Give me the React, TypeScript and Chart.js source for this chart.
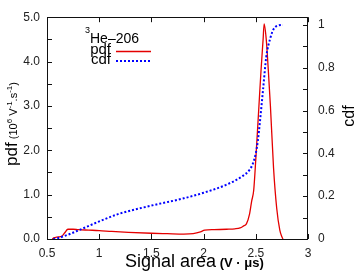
import React, { useEffect, useRef } from "react";
import { Chart, registerables } from "chart.js";

Chart.register(...registerables);

const pdfX = [0.55, 0.57, 0.59, 0.62, 0.64, 0.67, 0.7, 0.75, 0.8, 0.9, 1.0, 1.12, 1.28, 1.5, 1.65, 1.81, 1.9, 1.97, 2.01, 2.1, 2.22, 2.3, 2.35, 2.38, 2.41, 2.44, 2.46, 2.48, 2.5, 2.53, 2.55, 2.57, 2.58, 2.6, 2.62, 2.64, 2.67, 2.7, 2.73, 2.75, 2.76];
const pdfY = [0, 0.03, 0.04, 0.05, 0.06, 0.14, 0.22, 0.22, 0.21, 0.2, 0.19, 0.17, 0.15, 0.13, 0.12, 0.11, 0.12, 0.16, 0.2, 0.21, 0.22, 0.23, 0.25, 0.29, 0.34, 0.56, 0.85, 1.1, 1.8, 3.0, 3.8, 4.5, 4.85, 4.5, 3.8, 3.0, 1.6, 0.7, 0.2, 0.05, 0];

const cdfX = [0.56, 0.61, 0.7, 0.8, 0.99, 1.18, 1.5, 1.81, 2.0, 2.22, 2.38, 2.44, 2.47, 2.5, 2.52, 2.54, 2.57, 2.6, 2.64, 2.67, 2.72, 2.76];
const cdfY = [0, 0.005, 0.02, 0.04, 0.08, 0.116, 0.156, 0.19, 0.216, 0.254, 0.296, 0.323, 0.35, 0.4, 0.46, 0.55, 0.7, 0.85, 0.94, 0.98, 0.998, 1.0];

const xTicks = [0.5, 1, 1.5, 2, 2.5, 3];
const yTicks = [0, 1, 2, 3, 4, 5];
const yMinorTicks = [0.5, 1.5, 2.5, 3.5, 4.5];
const y2Ticks = [0, 0.2, 0.4, 0.6, 0.8, 1];
const y2MinorTicks = [0.1, 0.3, 0.5, 0.7, 0.9];

const seriesNames = ["pdf", "cdf"];
const legendTitle = "He-206";
const legendTitleSup = "3";

const FONT = "'Liberation Sans', Arial, sans-serif";

type Run = { t: string; size: number; sup?: boolean; bold?: boolean };

function runWidth(ctx: CanvasRenderingContext2D, runs: Run[]) {
  let w = 0;
  for (const r of runs) {
    ctx.font = `${r.bold ? "bold " : ""}${r.size}px ${FONT}`;
    w += ctx.measureText(r.t).width;
  }
  return w;
}

function drawRuns(ctx: CanvasRenderingContext2D, runs: Run[], x: number, y: number) {
  let cx = x;
  ctx.textBaseline = "alphabetic";
  ctx.textAlign = "left";
  for (const r of runs) {
    ctx.font = `${r.bold ? "bold " : ""}${r.size}px ${FONT}`;
    ctx.fillText(r.t, cx, r.sup ? y - 5 : y);
    cx += ctx.measureText(r.t).width;
  }
}

const decorPlugin = {
  id: "decor",
  afterDatasetsDraw(chart: any) {
    const ctx: CanvasRenderingContext2D = chart.ctx;
    const { left, right, top, bottom } = chart.chartArea;
    const xs = chart.scales.x;
    const ys = chart.scales.y;
    const y2s = chart.scales.y2;
    ctx.save();
    // frame
    ctx.strokeStyle = "#111";
    ctx.lineWidth = 1;
    ctx.strokeRect(Math.round(left) + 0.5, Math.round(top) + 0.5, Math.round(right - left) - 1, Math.round(bottom - top));
    // ticks
    const tl = 5;
    ctx.beginPath();
    for (const v of xTicks) {
      const px = Math.round(xs.getPixelForValue(v)) + 0.5;
      ctx.moveTo(px, bottom);
      ctx.lineTo(px, bottom - tl);
      ctx.moveTo(px, top);
      ctx.lineTo(px, top + tl);
    }
    for (const v of [...yTicks, ...yMinorTicks]) {
      const py = Math.round(ys.getPixelForValue(v)) + 0.5;
      ctx.moveTo(left, py);
      ctx.lineTo(left + tl, py);
    }
    for (const v of [...y2Ticks, ...y2MinorTicks]) {
      const py = Math.round(y2s.getPixelForValue(v)) + 0.5;
      ctx.moveTo(right, py);
      ctx.lineTo(right - tl, py);
    }
    ctx.stroke();

    ctx.fillStyle = "#000";
    // legend
    ctx.font = `9px ${FONT}`;
    ctx.textBaseline = "alphabetic";
    ctx.textAlign = "left";
    ctx.fillText(legendTitleSup, 85, 33);
    ctx.font = `14px ${FONT}`;
    ctx.fillText(legendTitle.replace("-", "\u2013"), 90, 43);
    ctx.font = `15px ${FONT}`;
    ctx.textAlign = "right";
    ctx.fillText(seriesNames[0], 111, 54);
    ctx.fillText(seriesNames[1], 111, 64);
    ctx.strokeStyle = "rgb(228,0,0)";
    ctx.lineWidth = 1.3;
    ctx.beginPath();
    ctx.moveTo(116, 51.5);
    ctx.lineTo(151, 51.5);
    ctx.stroke();
    ctx.strokeStyle = "rgb(0,0,255)";
    ctx.lineWidth = 2;
    ctx.setLineDash([2, 2]);
    ctx.beginPath();
    ctx.moveTo(116, 61);
    ctx.lineTo(151, 61);
    ctx.stroke();
    ctx.setLineDash([]);

    // left title
    const leftRuns: Run[] = [
      { t: "pdf", size: 17 },
      { t: " (10", size: 11 },
      { t: "6", size: 8, sup: true },
      { t: " V", size: 11 },
      { t: "-1", size: 8, sup: true },
      { t: ".s", size: 11 },
      { t: "-1", size: 8, sup: true },
      { t: ")", size: 11 },
    ];
    const lw = runWidth(ctx, leftRuns);
    ctx.save();
    ctx.translate(17, 124);
    ctx.rotate(-Math.PI / 2);
    drawRuns(ctx, leftRuns, -lw / 2, 0);
    ctx.restore();

    // bottom title
    const botRuns: Run[] = [
      { t: "Signal area", size: 18 },
      { t: " (V \u00b7 \u03bcs)", size: 13, bold: true },
    ];
    drawRuns(ctx, botRuns, 125, 267);

    // right title
    const rightRuns: Run[] = [{ t: "cdf", size: 16 }];
    const rw = runWidth(ctx, rightRuns);
    ctx.save();
    ctx.translate(354, 116);
    ctx.rotate(-Math.PI / 2);
    drawRuns(ctx, rightRuns, -rw / 2, 0);
    ctx.restore();

    ctx.restore();
  },
};

export default function App() {
  const ref = useRef<HTMLCanvasElement | null>(null);
  useEffect(() => {
    if (!ref.current) return;
    const chart = new Chart(ref.current, {
      type: "line",
      data: {
        datasets: [
          {
            label: seriesNames[1],
            data: cdfX.map((x, i) => ({ x, y: cdfY[i] })),
            yAxisID: "y2",
            borderColor: "rgb(0,0,255)",
            borderWidth: 2,
            borderDash: [2, 2],
            pointRadius: 0,
            cubicInterpolationMode: "monotone",
            fill: false,
          },
          {
            label: seriesNames[0],
            data: pdfX.map((x, i) => ({ x, y: pdfY[i] })),
            yAxisID: "y",
            borderColor: "rgb(228,0,0)",
            borderWidth: 1.3,
            pointRadius: 0,
            cubicInterpolationMode: "monotone",
            fill: false,
          },
        ],
      },
      options: {
        animation: false,
        responsive: false,
        maintainAspectRatio: false,
        layout: { padding: { top: 9, left: 0, right: 0, bottom: 0 } },
        plugins: { legend: { display: false }, tooltip: { enabled: false } },
        scales: {
          x: {
            type: "linear",
            min: 0.5,
            max: 3,
            grid: { display: false, drawTicks: false },
            border: { display: false },
            afterBuildTicks: (s: any) => {
              s.ticks = xTicks.map((v) => ({ value: v }));
            },
            afterFit: (s: any) => {
              s.height = 41;
            },
            ticks: {
              padding: 7,
              color: "#222",
              font: { size: 12, family: FONT },
              maxRotation: 0,
              callback: (v: any) => String(v),
            },
          },
          y: {
            type: "linear",
            position: "left",
            min: 0,
            max: 5,
            grid: { display: false, drawTicks: false },
            border: { display: false },
            afterBuildTicks: (s: any) => {
              s.ticks = yTicks.map((v) => ({ value: v }));
            },
            afterFit: (s: any) => {
              s.width = 47;
            },
            ticks: {
              padding: 7,
              color: "#222",
              font: { size: 12, family: FONT },
              callback: (v: any) => Number(v).toFixed(1),
            },
          },
          y2: {
            type: "linear",
            position: "right",
            min: 0,
            max: 1.036,
            grid: { display: false, drawTicks: false },
            border: { display: false },
            afterBuildTicks: (s: any) => {
              s.ticks = y2Ticks.map((v) => ({ value: v }));
            },
            afterFit: (s: any) => {
              s.width = 49;
            },
            ticks: {
              padding: 10,
              color: "#222",
              font: { size: 12, family: FONT },
              callback: (v: any) => String(Math.round(Number(v) * 10) / 10),
            },
          },
        },
      },
      plugins: [decorPlugin],
    } as any);
    return () => chart.destroy();
  }, []);
  return (
    <div style={{ position: "fixed", left: 0, top: 0, width: 357, height: 280, background: "#fff" }}>
      <canvas ref={ref} width={357} height={280} style={{ display: "block", width: 357, height: 280 }} />
    </div>
  );
}
